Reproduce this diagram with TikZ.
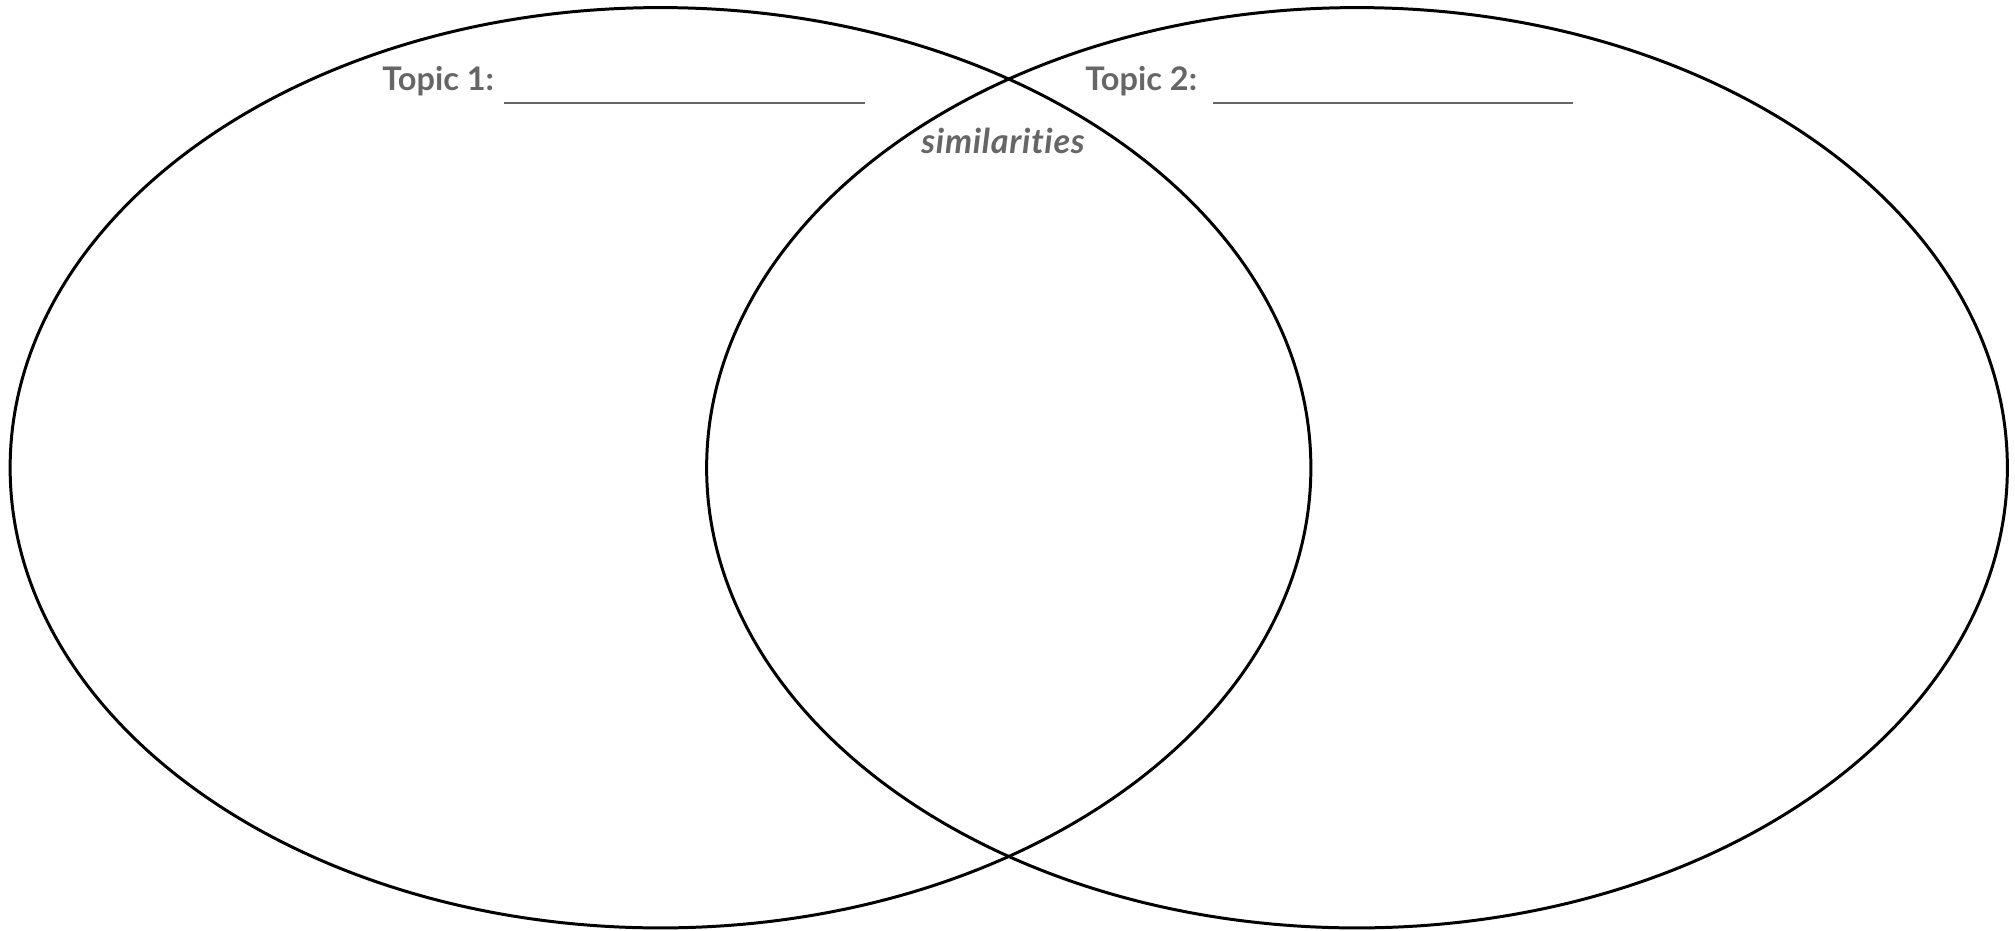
\documentclass[tikz,border=0pt]{standalone}
\usepackage{fontspec}
\setmainfont{Lato}
\usepackage{tikz}
\usetikzlibrary{positioning, shapes.geometric}
\definecolor{labelgray}{HTML}{666666}

\tikzset{
  venn/.style={draw=black, line width=1.7pt, ellipse, inner sep=0pt,
    minimum width=26.02cm, minimum height=18.41cm},
  topic/.style={anchor=base west, inner sep=0pt, text=labelgray,
    font=\fontsize{18.5}{22}\selectfont\bfseries},
  blank/.style={draw=labelgray, line width=1.1pt}
}

\begin{document}
\begin{tikzpicture}[x=0.02cm, y=-0.02cm]
  \useasboundingbox (0,0) rectangle (2015,930);

  % the two circles
  \node (left)  [venn] at (660.5,467.75) {};
  \node (right) [venn] at (1357,467.75) {};

  % headings
  \node (t1) [topic] at (382,90) {Topic 1:};
  \node (t2) [topic] at (1085,90) {Topic 2:};
  \node (sim) [topic, font=\fontsize{19.5}{22}\selectfont\bfseries\itshape
    \addfontfeatures{Ligatures=NoCommon, LetterSpace=2}]
    at (921,153) {similarities};

  % lines to write on
  \coordinate (b1s) at (504,103);
  \coordinate (b1e) at (865,103);
  \coordinate (b2s) at (1213,103);
  \coordinate (b2e) at (1573,103);
  \draw[blank] (b1s) -- (b1e);
  \draw[blank] (b2s) -- (b2e);
\end{tikzpicture}
\end{document}
